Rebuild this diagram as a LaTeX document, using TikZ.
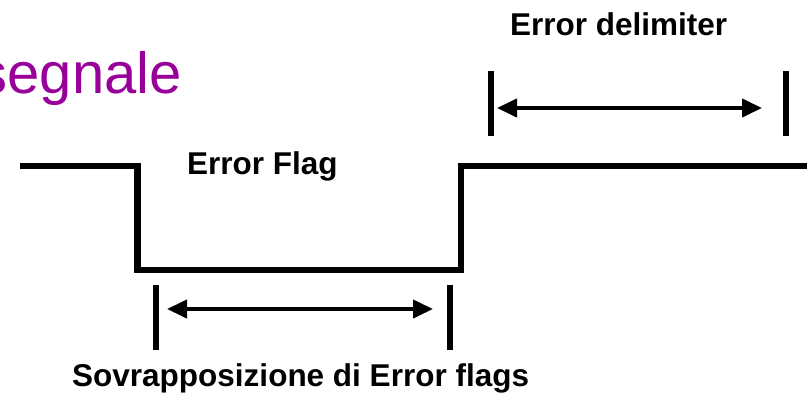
\documentclass[tikz,border=0pt]{standalone}
\usepackage{fontspec}
\setmainfont{Liberation Sans}
\usetikzlibrary{arrows.meta}
\definecolor{titlepurple}{HTML}{990099}
\tikzset{
  signal/.style={line width=6.5pt, line join=miter},
  bar/.style={line width=6.5pt},
  span/.style={line width=4pt, {Triangle[length=20pt,width=18pt]}-{Triangle[length=20pt,width=18pt]}, shorten <=1pt, shorten >=1pt},
  lbl/.style={inner sep=0pt, anchor=base west, font=\fontsize{31.5}{36}\selectfont\bfseries},
  title/.style={inner sep=0pt, anchor=base east, text=titlepurple, font=\fontsize{58}{66}\selectfont}
}
\begin{document}
\begin{tikzpicture}[x=1pt,y=-1pt]
\useasboundingbox (0,0) rectangle (807,394);
\clip (0,0) rectangle (807,394);
% title fragment
\node[title] (ttl) at (182,93) {segnale};
% labels
\node[lbl] (edl) at (510,35) {Error delimiter};
\node[lbl] (efl) at (187,174) {Error Flag};
\node[lbl] (sov) at (72,386) {Sovrapposizione di Error flags};
% signal
\coordinate (s0) at (20,166);
\coordinate (s1) at (137.5,166);
\coordinate (s2) at (137.5,270);
\coordinate (s3) at (461,270);
\coordinate (s4) at (461,166);
\coordinate (s5) at (810,166);
\draw[signal] (s0) -- (s1) -- (s2) -- (s3) -- (s4) -- (s5);
% error delimiter span
\coordinate (d1t) at (491,71);  \coordinate (d1b) at (491,136);
\coordinate (d2t) at (786,71);  \coordinate (d2b) at (786,136);
\draw[bar] (d1t) -- (d1b);
\draw[bar] (d2t) -- (d2b);
\coordinate (da) at (496,108); \coordinate (db) at (763,108);
\draw[span] (da) -- (db);
% overlap span
\coordinate (o1t) at (156,285); \coordinate (o1b) at (156,350);
\coordinate (o2t) at (450,285); \coordinate (o2b) at (450,350);
\draw[bar] (o1t) -- (o1b);
\draw[bar] (o2t) -- (o2b);
\coordinate (oa) at (166,309); \coordinate (ob) at (434,309);
\draw[span] (oa) -- (ob);
\end{tikzpicture}
\end{document}
